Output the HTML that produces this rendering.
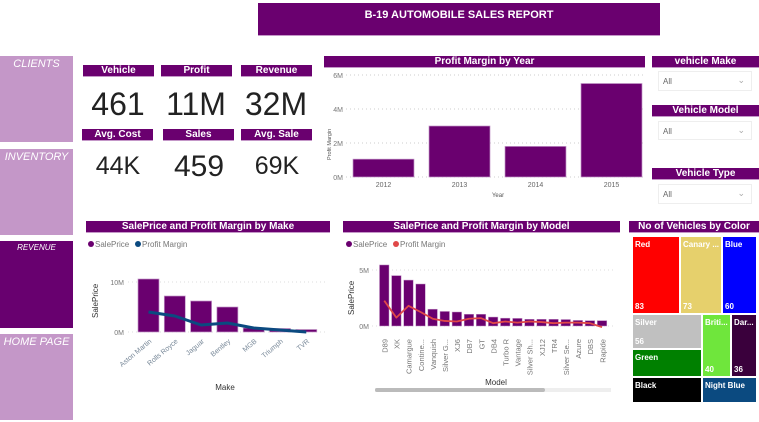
<!DOCTYPE html>
<html><head><meta charset="utf-8"><style>
body{margin:0;width:759px;height:422px;background:#fff;font-family:"Liberation Sans",sans-serif;position:relative;overflow:hidden}
.a{position:absolute;box-sizing:border-box}
.hd{background:#6a006f;color:#fff;font-weight:bold;font-size:10px;text-align:center;line-height:12px;border-bottom:1px solid #c497c8}
.nav{background:#c497c8;color:#fff;font-style:italic;font-size:11px;text-align:center;padding-top:2px}
.kpi{text-align:center;color:#222}
.dd{border:1px solid #eee;font-size:8px;color:#666;padding:5px 0 0 4px}
.dd span{position:absolute;right:6px;top:3px;color:#aaa;font-size:9px}
.tm{color:#fff;font-size:8px;font-weight:bold;padding:3px 2px;border:1px solid #fff}
.tm b{position:absolute;left:2px;bottom:2px;font-size:8px}
</style></head><body>
<div class="a hd" style="left:258px;top:3px;width:402px;height:33px;line-height:24px;font-size:11px">B-19 AUTOMOBILE SALES REPORT</div>

<div class="a nav" style="left:0;top:56px;width:73px;height:86px">CLIENTS</div>
<div class="a nav" style="left:0;top:149px;width:73px;height:86px">INVENTORY</div>
<div class="a nav" style="left:0;top:241px;width:73px;height:87px;background:#68006f;font-size:8px">REVENUE</div>
<div class="a nav" style="left:0;top:334px;width:73px;height:86px">HOME PAGE</div>

<div class="a hd" style="left:83px;top:65px;width:71px;height:12px">Vehicle</div>
<div class="a hd" style="left:161px;top:65px;width:71px;height:12px">Profit</div>
<div class="a hd" style="left:241px;top:65px;width:71px;height:12px">Revenue</div>
<div class="a kpi" style="left:78px;top:86px;width:80px;font-size:32px">461</div>
<div class="a kpi" style="left:156px;top:86px;width:80px;font-size:32px">11M</div>
<div class="a kpi" style="left:236px;top:86px;width:80px;font-size:32px">32M</div>
<div class="a hd" style="left:82px;top:129px;width:71px;height:12px">Avg. Cost</div>
<div class="a hd" style="left:163px;top:129px;width:71px;height:12px">Sales</div>
<div class="a hd" style="left:241px;top:129px;width:71px;height:12px">Avg. Sale</div>
<div class="a kpi" style="left:78px;top:152px;width:80px;font-size:25px">44K</div>
<div class="a kpi" style="left:159px;top:150px;width:80px;font-size:30px">459</div>
<div class="a kpi" style="left:237px;top:152px;width:80px;font-size:25px">69K</div>

<div class="a hd" style="left:324px;top:56px;width:321px;height:12px">Profit Margin by Year</div>
<svg class="a" style="left:0;top:0" width="759" height="422" id="svg"></svg>

<div class="a hd" style="left:652px;top:56px;width:107px;height:12px">vehicle Make</div>
<div class="a dd" style="left:658px;top:71px;width:94px;height:20px">All<span>&#8964;</span></div>
<div class="a hd" style="left:652px;top:105px;width:107px;height:12px">Vehicle Model</div>
<div class="a dd" style="left:658px;top:121px;width:94px;height:19px">All<span>&#8964;</span></div>
<div class="a hd" style="left:652px;top:168px;width:107px;height:12px">Vehicle Type</div>
<div class="a dd" style="left:658px;top:184px;width:94px;height:20px">All<span>&#8964;</span></div>

<div class="a hd" style="left:86px;top:221px;width:244px;height:12px">SalePrice and Profit Margin by Make</div>
<div class="a hd" style="left:343px;top:221px;width:277px;height:12px">SalePrice and Profit Margin by Model</div>
<div class="a hd" style="left:629px;top:221px;width:130px;height:12px">No of Vehicles by Color</div>

<div class="a tm" style="left:632px;top:236px;width:48px;height:78px;background:#ff0000">Red<b>83</b></div>
<div class="a tm" style="left:680px;top:236px;width:42px;height:78px;background:#e6d06c">Canary ...<b>73</b></div>
<div class="a tm" style="left:722px;top:236px;width:35px;height:78px;background:#0000ff">Blue<b>60</b></div>
<div class="a tm" style="left:632px;top:314px;width:70px;height:35px;background:#c0c0c0">Silver<b>56</b></div>
<div class="a tm" style="left:632px;top:349px;width:70px;height:28px;background:#008000">Green</div>
<div class="a tm" style="left:702px;top:314px;width:29px;height:63px;background:#6fe63c">Briti...<b>40</b></div>
<div class="a tm" style="left:731px;top:314px;width:26px;height:63px;background:#3a003c">Dar...<b>36</b></div>
<div class="a tm" style="left:632px;top:377px;width:70px;height:26px;background:#000">Black</div>
<div class="a tm" style="left:702px;top:377px;width:55px;height:26px;background:#0b4a80">Night Blue</div>

<script>
const years=['2012','2013','2014','2015'];
const yearProfit=[1.05,3.0,1.8,5.5];
const yearTicks=[0,2,4,6];
const makes=['Aston Martin','Rolls Royce','Jaguar','Bentley','MGB','Triumph','TVR'];
const makeSale=[10.6,7.2,6.2,5.0,0.8,0.7,0.5];
const makeProfit=[4.0,3.2,1.4,1.8,0.8,0.4,0.0];
const makeTicks=[0,10];
const models=['D89','XK','Camargue','Contine...','Vanquish','Silver G...','XJ6','DB7','GT','DB4','Turbo R','Vantage','Silver Sh...','XJ12','TR4','Silver Se...','Azure','DBS','Rapide'];
const modelSale=[5.45,4.5,4.1,3.75,1.5,1.3,1.25,1.05,1.05,0.8,0.7,0.68,0.6,0.6,0.6,0.58,0.5,0.48,0.48];
const modelProfit=[2.26,0.75,1.8,1.25,0.65,0.45,0.4,0.65,0.7,0.25,0.4,0.3,0.4,0.35,0.25,0.3,0.3,0.25,-0.1];
const modelTicks=[0,5];

const svg=document.getElementById('svg');
const NS='http://www.w3.org/2000/svg';
function mk(t,a,txt){const e=document.createElementNS(NS,t);for(const k in a)e.setAttribute(k,a[k]);if(txt!==undefined)e.textContent=txt;svg.appendChild(e);return e;}

const yY=v=>177-v*17;
const xYband={x0:346,step:76};
yearTicks.forEach(t=>{
 const g=mk('line',{x1:346,x2:645,y1:yY(t),y2:yY(t),stroke:'#ccc','stroke-dasharray':'1,3'});
 
 const l=mk('text',{x:343,y:yY(t)+3,'font-size':7,fill:'#777','text-anchor':'end'},t+'M');
 
});
years.forEach((y,i)=>{
 const x=xYband.x0+i*xYband.step+7;
 const r=mk('rect',{x:x,y:yY(yearProfit[i]),width:61,height:yY(0)-yY(yearProfit[i]),fill:'#6a006f',stroke:'#c497c8','stroke-width':0.7});
 
 const l=mk('text',{x:x+30.5,y:187,'font-size':7,fill:'#666','text-anchor':'middle'},y);
 
});
let e=mk('text',{x:498,y:197,'font-size':6,fill:'#555','text-anchor':'middle'},'Year');

e=mk('text',{x:331,y:160,'font-size':5.5,fill:'#555',transform:'rotate(-90 331 160)'},'Profit Margin');


const mY=v=>332-v*5;
const mX=i=>138+i*26.3;
function legend(x,y,c1,c2,n2,pfx){
 let c=mk('circle',{cx:x,cy:y,r:3,fill:c1});
 let t=mk('text',{x:x+4,y:y+3,'font-size':8,fill:'#777'},'SalePrice');
 c=mk('circle',{cx:x+47,cy:y,r:3,fill:c2});
 t=mk('text',{x:x+51,y:y+3,'font-size':8,fill:'#777'},n2);
}
legend(91,244,'#6a006f','#0b4a80','Profit Margin','make');
makeTicks.forEach(t=>{
 const g=mk('line',{x1:128,x2:327,y1:mY(t),y2:mY(t),stroke:'#ddd','stroke-dasharray':'1,3'});
 
 const l=mk('text',{x:124,y:mY(t)+3,'font-size':7,fill:'#777','text-anchor':'end'},t+'M');
 
});
makes.forEach((m,i)=>{
 const r=mk('rect',{x:mX(i),y:mY(makeSale[i]),width:21,height:mY(0)-mY(makeSale[i]),fill:'#6a006f',stroke:'#c497c8','stroke-width':0.7});
 
 const cx=mX(i)+14;
 const l=mk('text',{x:cx,y:342,'font-size':7,fill:'#7a8a9a','text-anchor':'end',transform:`rotate(-40 ${cx} 342)`},m);
 
});
let d=makes.map((m,i)=>(i?'L':'M')+(mX(i)+10.5)+','+mY(makeProfit[i])).join(' ');
e=mk('path',{d:d,fill:'none',stroke:'#0b4a80','stroke-width':3,'stroke-linejoin':'round'});

e=mk('text',{x:225,y:390,'font-size':8,fill:'#333','text-anchor':'middle'},'Make');

e=mk('text',{x:98,y:318,'font-size':8,fill:'#333',transform:'rotate(-90 98 318)'},'SalePrice');


const dY=v=>326-v*11.2;
const dX=i=>379.5+i*12.1;
legend(349,244,'#6a006f','#e04848','Profit Margin','model');
modelTicks.forEach(t=>{
 const g=mk('line',{x1:372,x2:615,y1:dY(t),y2:dY(t),stroke:'#ddd','stroke-dasharray':'1,3'});
 
 const l=mk('text',{x:369,y:dY(t)+3,'font-size':7,fill:'#777','text-anchor':'end'},t+'M');
 
});
models.forEach((m,i)=>{
 const r=mk('rect',{x:dX(i),y:dY(modelSale[i]),width:9.5,height:dY(0)-dY(modelSale[i]),fill:'#6a006f',stroke:'#c497c8','stroke-width':0.5});
 
 const cx=dX(i)+8;
 const l=mk('text',{x:cx,y:339,'font-size':7.5,fill:'#777','text-anchor':'end',transform:`rotate(-90 ${cx} 339)`},m);
 
});
d=models.map((m,i)=>(i?'L':'M')+(dX(i)+4.75)+','+dY(modelProfit[i])).join(' ');
e=mk('path',{d:d,fill:'none',stroke:'#e04848','stroke-width':1.8,'stroke-linejoin':'round'});

e=mk('text',{x:496,y:385,'font-size':8,fill:'#333','text-anchor':'middle'},'Model');

e=mk('text',{x:354,y:315,'font-size':8,fill:'#333',transform:'rotate(-90 354 315)'},'SalePrice');

e=mk('rect',{x:375,y:388,width:236,height:4,fill:'#eee'});

e=mk('rect',{x:375,y:388,width:170,height:4,rx:2,fill:'#bbb'});

</script>
</body></html>
